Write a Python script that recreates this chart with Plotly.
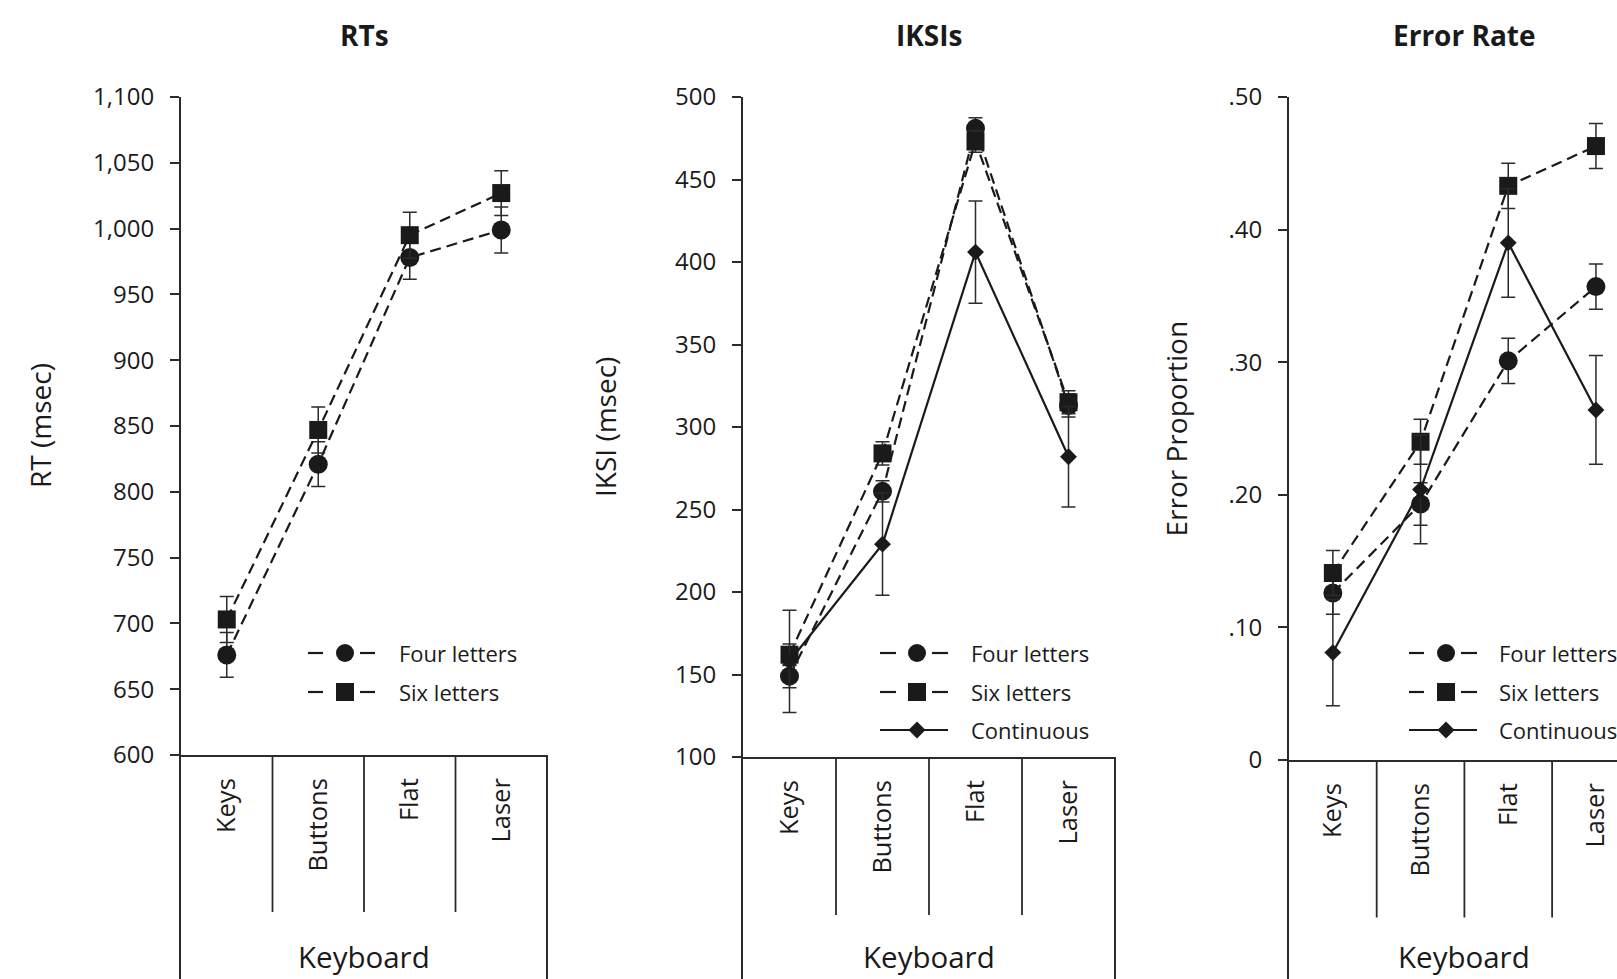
import plotly.graph_objects as go

# ---------------- data ----------------
categories = ["Keys", "Buttons", "Flat", "Laser"]

rt_four = [676, 821, 978, 999]
rt_four_se = [17, 17, 16.5, 17.5]
rt_six = [703, 847, 995, 1027]
rt_six_se = [17.5, 17.5, 17.5, 17]

iksi_four = [149, 261, 481, 313]
iksi_four_se = [7, 6.5, 6.5, 7]
iksi_six = [162, 284, 473, 315]
iksi_six_se = [6.5, 7, 6.5, 7]
iksi_cont = [158, 229, 406, 282]
iksi_cont_se = [31, 31, 31, 30.5]

err_four = [0.126, 0.193, 0.301, 0.357]
err_four_se = [0.016, 0.016, 0.017, 0.017]
err_six = [0.141, 0.240, 0.433, 0.463]
err_six_se = [0.017, 0.017, 0.017, 0.017]
err_cont = [0.081, 0.204, 0.390, 0.264]
err_cont_se = [0.040, 0.041, 0.041, 0.041]

rt_tickvals = [600, 650, 700, 750, 800, 850, 900, 950, 1000, 1050, 1100]
rt_ticktext = ["600", "650", "700", "750", "800", "850", "900", "950", "1,000", "1,050", "1,100"]
iksi_tickvals = [100, 150, 200, 250, 300, 350, 400, 450, 500]
iksi_ticktext = ["100", "150", "200", "250", "300", "350", "400", "450", "500"]
err_tickvals = [0, 0.1, 0.2, 0.3, 0.4, 0.5]
err_ticktext = ["0", ".10", ".20", ".30", ".40", ".50"]

panel_titles = ["RTs", "IKSIs", "Error Rate"]
y_titles = ["RT (msec)", "IKSI (msec)", "Error Proportion"]
x_title = "Keyboard"
series_names = ["Four letters", "Six letters", "Continuous"]

# ---------------- layout helpers ----------------
W, H = 1617, 979
INK = "#1a1a1a"
AX = "#2b2b2b"
FONT = "Open Sans"


def px(x):
    return x / W


def py(y):
    return 1 - y / H


# pixel geometry of each panel: (left, right, top, bottom, x_range_max, divider_bottom)
panels = [
    dict(l=181, r=547, t=97, b=755, xmax=3.5, divb=912),
    dict(l=743, r=1115, t=97, b=757, xmax=3.5, divb=915),
    dict(l=1289, r=1617, t=97, b=760, xmax=3.24, divb=917.5),
]
yranges = [[600, 1100], [100, 500], [0, 0.5]]
yticks = [(rt_tickvals, rt_ticktext), (iksi_tickvals, iksi_ticktext), (err_tickvals, err_ticktext)]
ytitle_x = [40, 605, 1175]
legend_geo = [
    dict(l0=308, l1=323, m=345, r0=360, r1=375, text=397),
    dict(l0=880, l1=896, m=917, r0=932, r1=948, text=969),
    dict(l0=1409, l1=1424, m=1446, r0=1461, r1=1477, text=1497),
]
legend_rows = [653, 692, 730]

series = [
    [(rt_four, rt_four_se, "circle", "dash"), (rt_six, rt_six_se, "square", "dash")],
    [(iksi_four, iksi_four_se, "circle", "dash"), (iksi_six, iksi_six_se, "square", "dash"),
     (iksi_cont, iksi_cont_se, "diamond", "solid")],
    [(err_four, err_four_se, "circle", "dash"), (err_six, err_six_se, "square", "dash"),
     (err_cont, err_cont_se, "diamond", "solid")],
]
marker_size = {"circle": 19, "square": 18, "diamond": 13}
DASH = "11px,6px"

fig = go.Figure()
shapes = []
annotations = []

for i, p in enumerate(panels):
    sfx = "" if i == 0 else str(i + 1)
    xa, ya = "x" + sfx, "y" + sfx
    for vals, se, sym, dash in series[i]:
        fig.add_trace(go.Scatter(
            x=categories, y=vals, xaxis=xa, yaxis=ya,
            mode="lines+markers",
            line=dict(color=INK, width=2.2, dash=DASH if dash == "dash" else "solid"),
            marker=dict(symbol=sym, size=marker_size[sym], color=INK, line=dict(width=0)),
            error_y=dict(type="data", array=se, color=AX, thickness=1.5, width=7),
            showlegend=False, cliponaxis=False,
        ))

    tv, tt = yticks[i]
    fig.update_layout(**{
        "xaxis" + sfx: dict(
            domain=[px(p["l"]), px(p["r"])], anchor=ya, type="category",
            categoryorder="array", categoryarray=categories,
            range=[-0.5, p["xmax"]], showline=True, linecolor=AX, linewidth=2,
            ticks="", tickangle=-90, ticklabelstandoff=11,
            tickfont=dict(size=25.5, color=INK, family=FONT),
            showgrid=False, zeroline=False, fixedrange=True,
        ),
        "yaxis" + sfx: dict(
            domain=[py(p["b"]), py(p["t"])], anchor=xa, range=yranges[i],
            tickvals=tv, ticktext=tt, showline=True, linecolor=AX, linewidth=2,
            ticks="outside", ticklen=9, tickwidth=1.6, tickcolor=AX,
            ticklabelstandoff=11,
            tickfont=dict(size=24, color=INK, family=FONT),
            showgrid=False, zeroline=False, fixedrange=True,
        ),
    })

    # category box: inner dividers and outer verticals below the axis
    for k in [0.5, 1.5, 2.5]:
        shapes.append(dict(type="line", xref=xa, yref="paper", x0=k, x1=k,
                           y0=py(p["b"]), y1=py(p["divb"]), line=dict(color=AX, width=1.8)))
    for xpix in [p["l"] - 1, p["l"] + (p["r"] - p["l"]) * 4.0 / (p["xmax"] + 0.5)]:
        shapes.append(dict(type="line", xref="paper", yref="paper", x0=px(xpix), x1=px(xpix),
                           y0=py(p["b"]), y1=0, line=dict(color=AX, width=2)))

    cx = p["l"] + (p["r"] - p["l"]) * 4.0 / (p["xmax"] + 0.5) / 2
    annotations.append(dict(text="<b>" + panel_titles[i] + "</b>", x=px(cx), y=py(35),
                            xref="paper", yref="paper", showarrow=False,
                            xanchor="center", yanchor="middle",
                            font=dict(size=28, color=INK, family=FONT)))
    annotations.append(dict(text=x_title, x=px(cx), y=py(956), xref="paper", yref="paper",
                            showarrow=False, xanchor="center", yanchor="middle",
                            font=dict(size=29.5, color=INK, family=FONT)))
    annotations.append(dict(text=y_titles[i], x=px(ytitle_x[i]), y=py((p["t"] + p["b"]) / 2),
                            xref="paper", yref="paper", showarrow=False, textangle=-90,
                            xanchor="center", yanchor="middle",
                            font=dict(size=28, color=INK, family=FONT)))

    # legend
    g = legend_geo[i]
    for j, (vals, se, sym, dash) in enumerate(series[i]):
        yy = py(legend_rows[j])
        if dash == "dash":
            for a, b in [(g["l0"], g["l1"]), (g["r0"], g["r1"])]:
                shapes.append(dict(type="line", xref="paper", yref="paper", x0=px(a), x1=px(b),
                                   y0=yy, y1=yy, line=dict(color=INK, width=2.2)))
        else:
            shapes.append(dict(type="line", xref="paper", yref="paper", x0=px(g["l0"]),
                               x1=px(g["r1"]), y0=yy, y1=yy, line=dict(color=INK, width=2.2)))
        base = dict(xref="paper", yref="paper", xsizemode="pixel", ysizemode="pixel",
                    xanchor=px(g["m"]), yanchor=yy, fillcolor=INK, line=dict(width=0))
        if sym == "circle":
            shapes.append(dict(type="circle", x0=-9, x1=9, y0=-9, y1=9, **base))
        elif sym == "square":
            shapes.append(dict(type="rect", x0=-9, x1=9, y0=-9, y1=9, **base))
        else:
            shapes.append(dict(type="path", path="M -8.5 0 L 0 8.5 L 8.5 0 L 0 -8.5 Z", **base))
        annotations.append(dict(text=series_names[j], x=px(g["text"]), y=yy, xref="paper",
                                yref="paper", showarrow=False, xanchor="left", yanchor="middle",
                                font=dict(size=22, color=INK, family=FONT)))

fig.update_layout(
    width=W, height=H, margin=dict(l=0, r=0, t=0, b=0, autoexpand=False),
    paper_bgcolor="white", plot_bgcolor="white",
    font=dict(family=FONT, color=INK),
    shapes=shapes, annotations=annotations, showlegend=False,
)

fig.write_html("out.html", config={"displayModeBar": False},
               post_script="document.body.style.margin='0px';")
